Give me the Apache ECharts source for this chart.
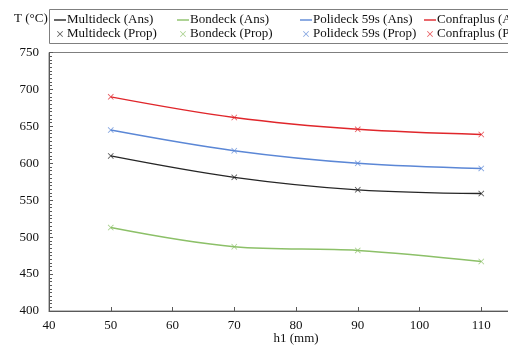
<!DOCTYPE html>
<html>
<head>
<meta charset="utf-8">
<script src="https://cdn.jsdelivr.net/npm/echarts@6/dist/echarts.min.js"></script>
<style>html,body{margin:0;padding:0;background:#fff}#c{width:508px;height:347px}</style>
</head>
<body>
<div id="c"></div>
<script>
const h1 = [50, 70, 90, 110];
const multideckAns = [610, 581, 564, 559];
const bondeckAns = [513, 487, 482, 467];
const polideckAns = [645, 617, 600, 593];
const confraplusAns = [690, 662, 646, 639];
const multideckProp = [610, 581, 564, 559];
const bondeckProp = [513, 487, 482, 467];
const polideckProp = [645, 617, 600, 593];
const confraplusProp = [690, 662, 646, 639];
const names = ['Multideck', 'Bondeck', 'Polideck 59s', 'Confraplus'];
const colors = ['#262626', '#8cc068', '#5b87d6', '#e0262b'];
const ansData = [multideckAns, bondeckAns, polideckAns, confraplusAns];
const propData = [multideckProp, bondeckProp, polideckProp, confraplusProp];
const xTicks = [40, 120, 10];
const yTicks = [400, 750, 50];

const FONT = '"Liberation Serif", "Times New Roman", serif';
const crossPath = 'path://M0,1L1,0L5,4L9,0L10,1L6,5L10,9L9,10L5,6L1,10L0,9L4,5Z';
const linePath = 'path://M0,0L12,0L12,1.4L0,1.4Z';

const pair = (a, b) => a.map((v, i) => [b[i], v]);
const series = [];
names.forEach((n, k) => {
  series.push({
    name: n + ' (Ans)', type: 'line', smooth: 0.35, showSymbol: false,
    data: pair(ansData[k], h1), lineStyle: {color: colors[k], width: 1.4},
    itemStyle: {color: colors[k]}, z: 2
  });
});
names.forEach((n, k) => {
  series.push({
    name: n + ' (Prop)', type: 'scatter', symbol: crossPath, symbolSize: 6,
    data: pair(propData[k], h1), itemStyle: {color: colors[k], opacity: 0.75}, z: 3
  });
});

const colLeft = [54, 177, 300, 424];
const legends = names.map((n, k) => ({
  orient: 'vertical', left: colLeft[k], top: 13, padding: 0, itemGap: 0,
  itemWidth: 12, itemHeight: 6, symbolKeepAspect: true,
  textStyle: {fontFamily: FONT, fontSize: 13, color: '#111', lineHeight: 14, padding: [0, 0, 0, -4]},
  data: [{name: n + ' (Ans)', icon: linePath}, {name: n + ' (Prop)', icon: crossPath}],
  selectedMode: false
}));

const chart = echarts.init(document.getElementById('c'), null, {renderer: 'canvas'});
chart.setOption({
  backgroundColor: '#fff',
  animation: false,
  textStyle: {fontFamily: FONT},
  legend: legends,
  graphic: [
    {type: 'rect', shape: {x: 49.5, y: 9.5, width: 520, height: 34}, style: {fill: 'none', stroke: '#7f7f7f', lineWidth: 1}, silent: true},
    {type: 'text', left: 14, top: 12.5, style: {text: 'T (°C)', font: '13px ' + FONT, fill: '#111'}}
  ],
  grid: {left: 49, top: 52.5, width: 494, height: 258.5, containLabel: false, outerBoundsMode: 'none',
    show: true, borderColor: '#7f7f7f', borderWidth: 1, backgroundColor: 'transparent'},
  xAxis: {
    type: 'value', min: xTicks[0], max: xTicks[1], interval: xTicks[2],
    name: 'h1 (mm)', nameLocation: 'middle', nameGap: 21, nameMoveOverlap: false,
    nameTextStyle: {fontFamily: FONT, fontSize: 13, color: '#111', verticalAlign: 'top'},
    axisLine: {lineStyle: {color: '#595959', width: 1}},
    axisTick: {inside: true, length: 4, lineStyle: {color: '#595959'}},
    axisLabel: {fontFamily: FONT, fontSize: 13, color: '#111', margin: 8},
    splitLine: {show: false}
  },
  yAxis: {
    type: 'value', min: yTicks[0], max: yTicks[1], interval: yTicks[2],
    axisLine: {show: true, lineStyle: {color: '#595959', width: 1}},
    axisTick: {show: true, inside: true, length: 4, lineStyle: {color: '#595959'}},
    minorTick: {show: true, splitNumber: 10, length: 3, lineStyle: {color: '#595959'}},
    axisLabel: {fontFamily: FONT, fontSize: 13, color: '#111', margin: 10},
    splitLine: {show: false}
  },
  series: series
});
</script>
</body>
</html>
